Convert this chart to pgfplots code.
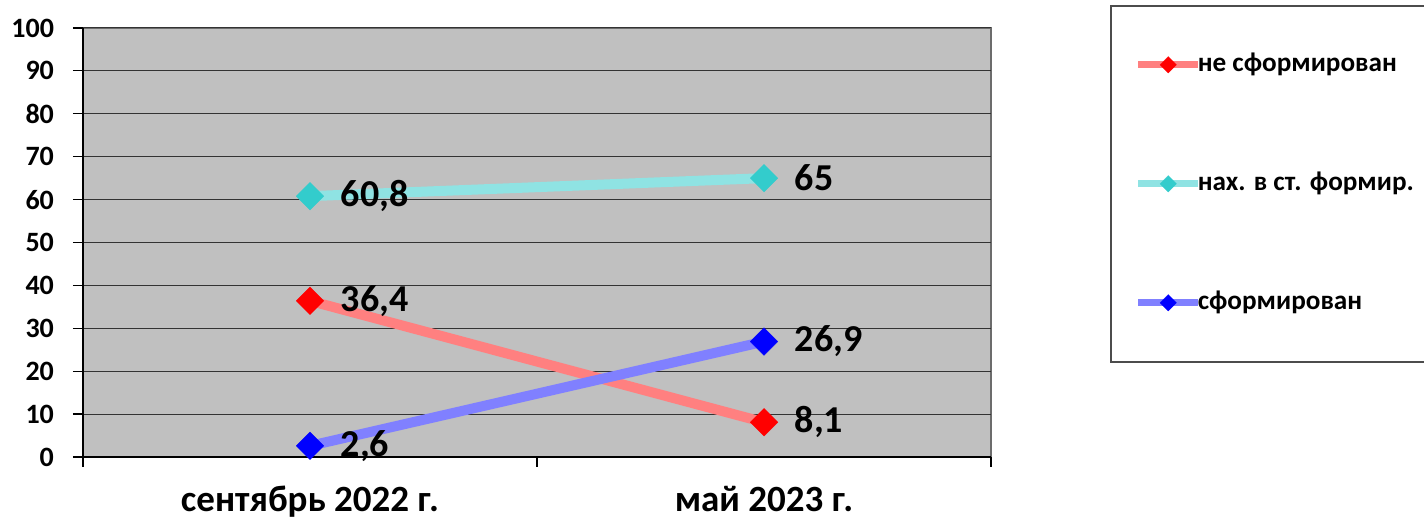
\documentclass[border=0pt]{standalone}
\usepackage{fontspec}
\setmainfont{Carlito}
\usepackage{pgfplots}
\pgfplotsset{compat=1.18}
\definecolor{cred}{HTML}{FF0000}
\definecolor{ccyan}{HTML}{33CCCC}
\definecolor{cblue}{HTML}{0000FF}
\definecolor{bggray}{HTML}{C0C0C0}
\begin{document}
\begin{tikzpicture}[x=1pt,y=1pt]
\clip (0,0) rectangle (712,259.5);
\begin{axis}[
  at={(41.5pt,31pt)}, anchor=south west,
  scale only axis, width=454pt, height=214.5pt,
  xmin=-0.5, xmax=1.5, ymin=0, ymax=100,
  axis background/.style={fill=bggray, draw=gray!85!black, line width=1pt},
  axis x line*=bottom, axis y line*=left,
  axis line style={black, line width=0.6pt, -},
  tick align=outside,
  major tick length=5pt,
  tick style={black, line width=0.6pt},
  /pgf/number format/assume math mode=true,
  xtick={-0.5,0.5,1.5}, xticklabels={},
  extra x ticks={0,1},
  extra x tick labels={сентябрь 2022 г., май 2023 г.},
  extra x tick style={major tick length=0pt, tick style={draw=none},
     xticklabel style={font=\bfseries\fontsize{18.5}{20}\selectfont, yshift=-11pt}},
  ytick={0,10,...,100},
  ymajorgrids,
  major grid style={black!80, line width=0.5pt},
  yticklabel style={font=\bfseries\fontsize{14}{15}\selectfont, xshift=-6pt},
  nodes near coords,
  point meta=explicit symbolic,
  nodes near coords style={anchor=west, xshift=12pt, font=\bfseries\fontsize{19}{21}\selectfont, text=black},
  legend style={at={(1.131,1.0536)}, anchor=north west, draw=gray!60!black, line width=0.8pt, fill=white,
     font=\bfseries\fontsize{13.6}{15}\selectfont, row sep=44.5pt, column sep=0pt,
     inner xsep=12pt, inner ysep=22pt,
     nodes={text height=10pt, text depth=3pt, inner sep=1pt}},
  legend cell align=left,
  legend image code/.code={%
     \draw[#1, line width=3.5pt, mark size=2.9pt, mark repeat=2, mark phase=2] plot coordinates {(0pt,0pt) (15pt,0pt) (30pt,0pt)};},
]
\addplot[cred!50!white, line width=5pt, mark=square*, mark size=4.9pt,
  mark options={rotate=45, fill=cred, draw=cred, line width=0.1pt}]
  coordinates {(0,36.4)[36,4] (1,8.1)[8,1]};
\addlegendentry{\hspace*{-3pt}не сформирован\hspace*{80pt}}
\addplot[ccyan!55!white, line width=5pt, mark=square*, mark size=4.9pt,
  mark options={rotate=45, fill=ccyan, draw=ccyan, line width=0.1pt}]
  coordinates {(0,60.8)[60,8] (1,65)[65]};
\addlegendentry{\hspace*{-3pt}нах. в ст. формир.\hspace*{60pt}}
\addplot[cblue!50!white, line width=5pt, mark=square*, mark size=4.9pt,
  mark options={rotate=45, fill=cblue, draw=cblue, line width=0.1pt}]
  coordinates {(0,2.6)[2,6] (1,26.9)[26,9]};
\addlegendentry{\hspace*{-3pt}сформирован\hspace*{90pt}}
\end{axis}
\end{tikzpicture}
\end{document}
